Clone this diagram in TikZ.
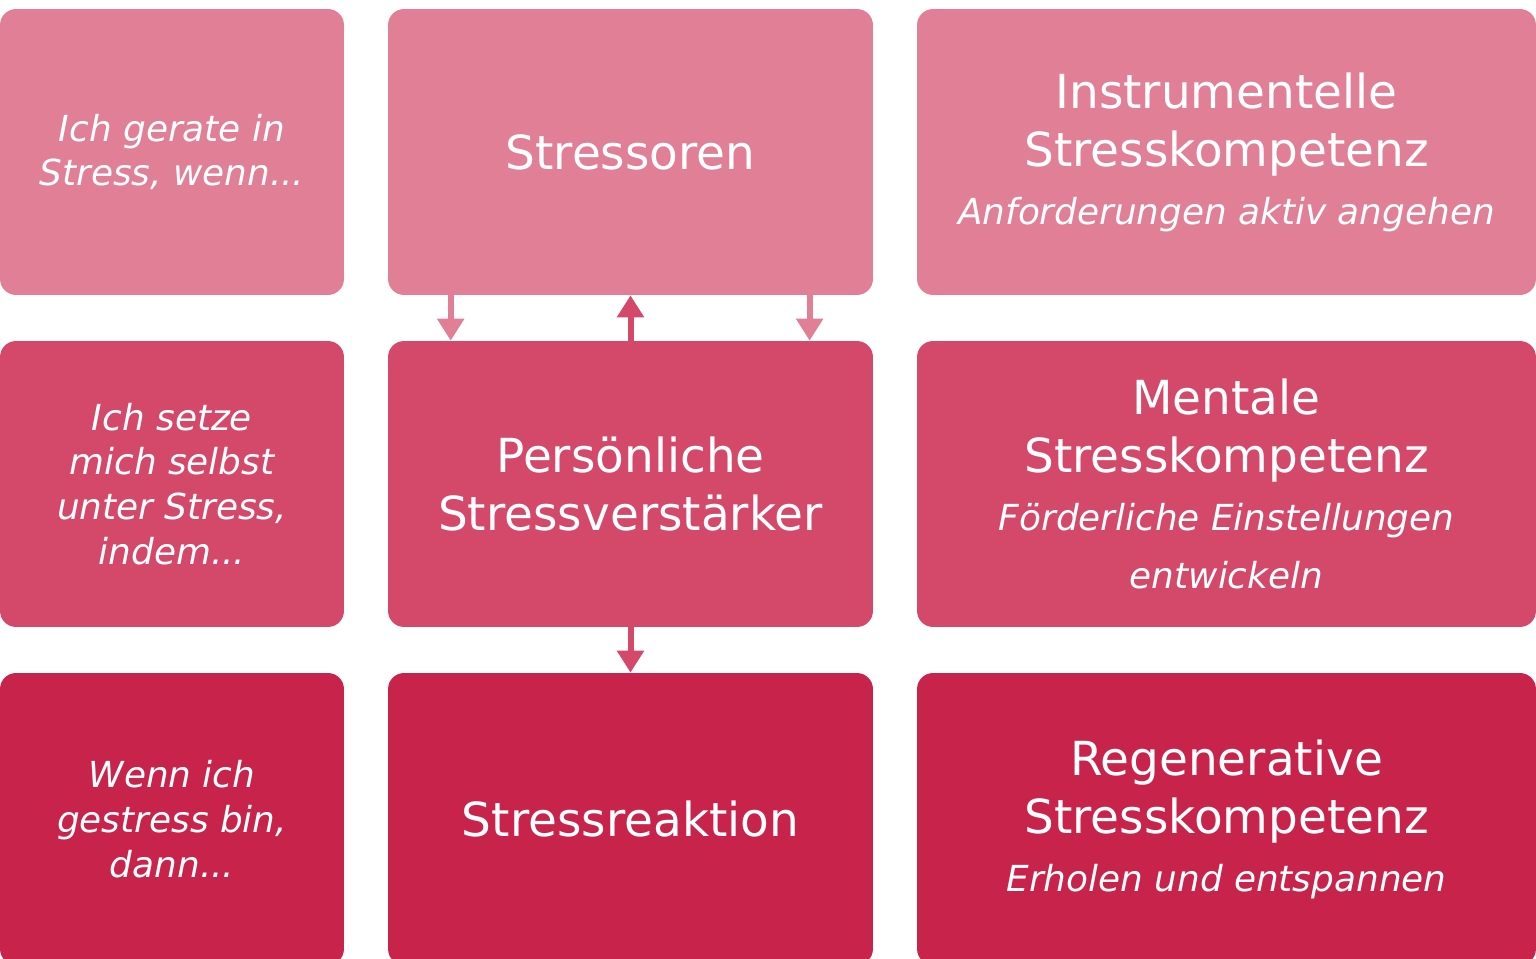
\documentclass[tikz,border=0pt]{standalone}
\usepackage{fontspec}
\setmainfont{DejaVu Sans}
\usetikzlibrary{arrows.meta,calc}
\definecolor{cA}{HTML}{E07F95}
\definecolor{cB}{HTML}{D4496A}
\definecolor{cC}{HTML}{C8234A}
\tikzset{
  box/.style={rectangle, rounded corners=0.32cm, inner sep=0pt, text=white, align=center, minimum height=5.72cm},
  colL/.style={box, minimum width=6.88cm, font=\fontsize{20.4}{25.5}\selectfont\itshape},
  colM/.style={box, minimum width=9.7cm, font=\fontsize{26.7}{33}\selectfont},
  colR/.style={box, minimum width=12.38cm, font=\fontsize{26.7}{33}\selectfont},
  lastrow/.style={minimum height=5.84cm},
  arr/.style={line width=0.12cm, -{Triangle[width=0.52cm,length=0.44cm]}}
}
\newcommand{\subt}[1]{{\fontsize{20.4}{33}\selectfont\itshape #1}}
\begin{document}
\begin{tikzpicture}[x=0.02cm,y=-0.02cm]
\useasboundingbox (0,0) rectangle (1536,959);
% row 1
\node[colL, fill=cA] (l1) at (172,152) {Ich gerate in\\Stress, wenn...};
\node[colM, fill=cA] (stressoren) at (630.5,152) {Stressoren};
\node[colR, fill=cA] (instr) at (1226.5,152) {Instrumentelle\\Stresskompetenz\\\subt{Anforderungen aktiv angehen}};
% row 2
\node[colL, fill=cB] (l2) at (172,484) {Ich setze\\mich selbst\\unter Stress,\\indem...};
\node[colM, fill=cB] (verst) at (630.5,484) {Persönliche\\Stressverstärker};
\node[colR, fill=cB] (mental) at (1226.5,484) {Mentale\\Stresskompetenz\\\subt{Förderliche Einstellungen}\\\subt{entwickeln}};
% row 3
\node[colL, lastrow, fill=cC] (l3) at (172,819) {Wenn ich\\gestress bin,\\dann...};
\node[colM, lastrow, fill=cC] (reakt) at (630.5,819) {Stressreaktion};
\node[colR, lastrow, fill=cC] (regen) at (1226.5,819) {Regenerative\\Stresskompetenz\\\subt{Erholen und entspannen}};
% connectors
\draw[arr, cA] ([xshift=1.26cm]stressoren.south west) -- ([xshift=1.26cm]stressoren.south west |- verst.north);
\draw[arr, cA] ([xshift=8.44cm]stressoren.south west) -- ([xshift=8.44cm]stressoren.south west |- verst.north);
\draw[arr, cB] (verst.north) -- (stressoren.south);
\draw[arr, cB] (verst.south) -- (reakt.north);
\end{tikzpicture}
\end{document}
